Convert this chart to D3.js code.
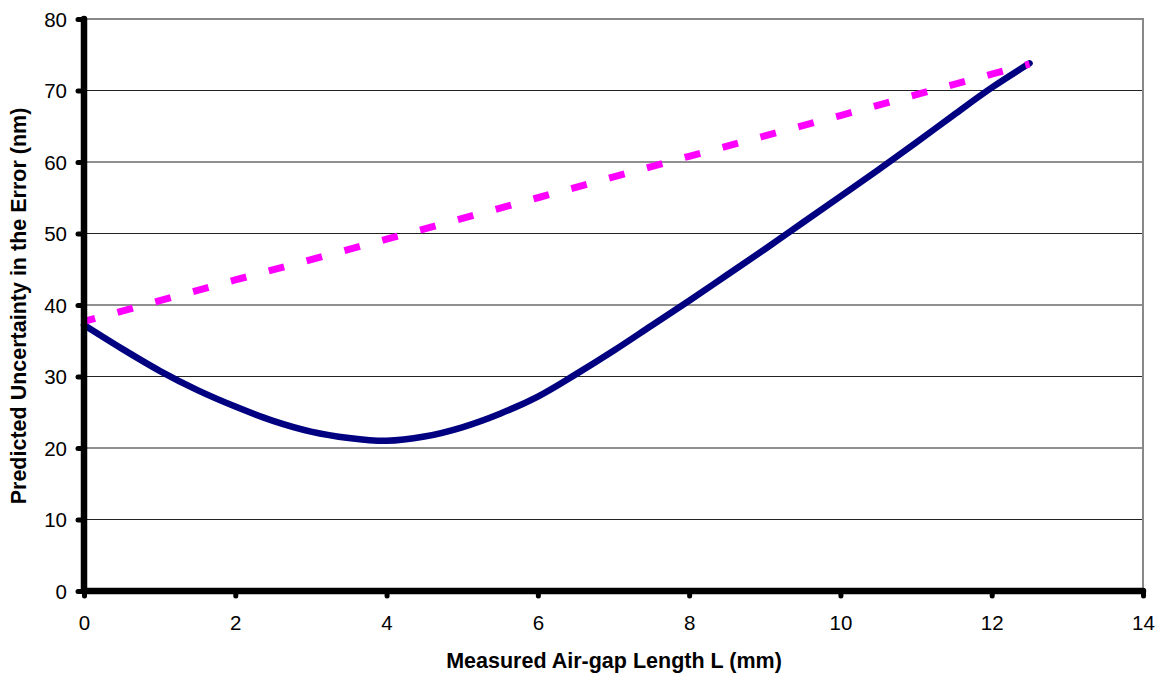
<!DOCTYPE html>
<html>
<head>
<meta charset="utf-8">
<script src="https://cdn.jsdelivr.net/npm/d3@7"></script>
<style>
  html, body { margin: 0; padding: 0; background: #fff; }
  svg { display: block; }
  text { font-family: "Liberation Sans", Arial, sans-serif; fill: #000; }
</style>
</head>
<body>
<svg id="chart" width="1159" height="673"></svg>
<script>
// ---- data ----
const xTicks = [0, 2, 4, 6, 8, 10, 12, 14];
const yTicks = [0, 10, 20, 30, 40, 50, 60, 70, 80];
const airGap = [0, 0.5, 1, 1.5, 2, 2.5, 3, 3.5, 4, 4.5, 5, 5.5, 6, 6.5, 7, 7.5, 8, 8.5, 9, 9.5, 10, 10.5, 11, 11.5, 12, 12.5];
const predicted = [37.2, 33.9, 30.8, 28.1, 25.8, 23.8, 22.3, 21.4, 21.0, 21.6, 22.9, 24.8, 27.2, 30.3, 33.6, 37.1, 40.6, 44.2, 47.8, 51.5, 55.2, 58.9, 62.7, 66.6, 70.4, 73.8];
const boundX = [0, 2, 4, 6, 8, 10, 12, 12.5];
const boundY = [37.7, 43.5, 49.2, 55.0, 60.8, 66.5, 72.3, 73.7];
const xTitle = "Measured Air-gap Length L (mm)";
const yTitle = "Predicted Uncertainty in the Error (nm)";

(function () {
// ---- layout ----
const svg = d3.select("#chart");
const mLeft = 84, mRight = 1143, mTop = 19, mBottom = 591;
const x = d3.scaleLinear().domain([0, 14]).range([mLeft, mRight]);
const y = d3.scaleLinear().domain([0, 80]).range([mBottom, mTop]);

// gridlines
svg.append("g").selectAll("line").data(yTicks.filter(d => d > 0 && d < 80)).join("line")
  .attr("x1", mLeft).attr("x2", mRight)
  .attr("y1", d => y(d)).attr("y2", d => y(d))
  .attr("stroke", "#222").attr("stroke-width", 1.2);

// plot border (top, right)
svg.append("path")
  .attr("d", `M${mLeft},${y(80)}H${x(14)}V${mBottom}`)
  .attr("fill", "none").attr("stroke", "#888").attr("stroke-width", 2);

// solid curve
const line = d3.line().x(d => x(d[0])).y(d => y(d[1])).curve(d3.curveCatmullRom.alpha(0.5));
svg.append("path")
  .datum(airGap.map((v, i) => [v, predicted[i]]))
  .attr("d", line)
  .attr("fill", "none").attr("stroke", "#000080").attr("stroke-width", 6.5)
  .attr("stroke-linecap", "round").attr("stroke-linejoin", "round");

// dashed line
svg.append("path")
  .datum(boundX.map((v, i) => [v, boundY[i]]))
  .attr("d", d3.line().x(d => x(d[0])).y(d => y(d[1])))
  .attr("fill", "none").attr("stroke", "#ff00ff").attr("stroke-width", 7)
  .attr("stroke-dasharray", "16,23.2").attr("stroke-dashoffset", 4.5).attr("stroke-linecap", "butt");

// axes
const xAxis = svg.append("g").attr("transform", `translate(0,${mBottom})`)
  .call(d3.axisBottom(x).tickValues(xTicks).tickSize(5).tickFormat(d3.format("d")));
const yAxis = svg.append("g").attr("transform", `translate(${mLeft},0)`)
  .call(d3.axisLeft(y).tickValues(yTicks).tickSize(6).tickFormat(d3.format("d")));
[xAxis, yAxis].forEach(g => {
  g.select(".domain").remove();
  g.selectAll(".tick line").attr("stroke", "#000").attr("stroke-width", 5).attr("stroke-linecap", "round");
  g.selectAll(".tick text").style("font-size", "20.5px").style("font-family", "Liberation Sans, Arial, sans-serif").attr("fill", "#000");
});
xAxis.selectAll(".tick text").attr("y", 39).attr("dy", null);
yAxis.selectAll(".tick text").attr("x", -17).attr("dy", "0.35em");

// axis lines
svg.append("line").attr("x1", mLeft).attr("x2", mLeft).attr("y1", mTop).attr("y2", mBottom)
  .attr("stroke", "#000").attr("stroke-width", 6.5).attr("stroke-linecap", "round");
svg.append("line").attr("x1", mLeft).attr("x2", mRight).attr("y1", mBottom).attr("y2", mBottom)
  .attr("stroke", "#000").attr("stroke-width", 6.5).attr("stroke-linecap", "round");

// titles
svg.append("text").attr("x", 614).attr("y", 668)
  .attr("text-anchor", "middle").style("font-size", "21.5px").style("font-weight", "bold").text(xTitle);
svg.append("text").attr("transform", `translate(26,306) rotate(-90)`)
  .attr("text-anchor", "middle").style("font-size", "21.5px").style("font-weight", "bold").text(yTitle);
})();
</script>
</body>
</html>
